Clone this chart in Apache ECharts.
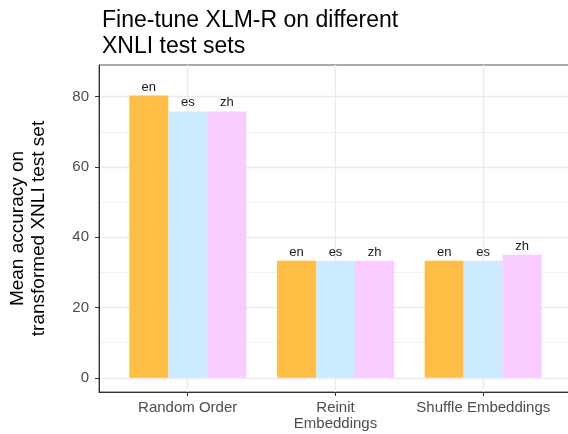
<!DOCTYPE html>
<html>
<head>
<meta charset="utf-8">
<script src="https://cdn.jsdelivr.net/npm/echarts@6/dist/echarts.min.js"></script>
<style>
html,body{margin:0;padding:0;background:#fff;}
#chart{width:568px;height:434px;}
</style>
</head>
<body>
<div id="chart"></div>
<script>
const categories = ['Random Order', 'Reinit\nEmbeddings', 'Shuffle Embeddings'];
const seriesNames = ['en', 'es', 'zh'];
const enValues = [80.3, 33.3, 33.3];
const esValues = [75.8, 33.3, 33.3];
const zhValues = [75.8, 33.3, 35.0];
const yMajorTicks = [0, 20, 40, 60, 80];
const yMinorTicks = [10, 30, 50, 70];
const xTickPositions = [1, 2, 3];

const colors = ['#FFBF47', '#CCEBFF', '#F9CCFF'];
const FONT = 'Liberation Sans';
const Y_MIN = -4.03, Y_MAX = 89.0;

const values = [enValues, esValues, zhValues];

const chart = echarts.init(document.getElementById('chart'), null, {renderer: 'canvas'});

const option = {
  animation: false,
  backgroundColor: '#fff',
  textStyle: {fontFamily: FONT},
  title: {
    text: 'Fine-tune XLM-R on different\nXNLI test sets',
    left: 97, top: 3,
    textStyle: {fontFamily: FONT, fontSize: 23, fontWeight: 'normal', color: '#000', lineHeight: 26}
  },
  grid: [
    {left: 99, top: 65, width: 473, height: 327, show: true, borderColor: '#555', borderWidth: 1, backgroundColor: 'transparent', containLabel: false, outerBoundsMode: 'none'},
    {left: 114, top: 65, width: 443, height: 327, containLabel: false, outerBoundsMode: 'none'}
  ],
  xAxis: [
    {
      type: 'value', gridIndex: 0, min: 0.4, max: 3.6,
      axisLine: {show: true, onZero: false, lineStyle: {color: '#333', width: 1}},
      axisTick: {show: true, length: 4, customValues: xTickPositions, lineStyle: {color: '#333', width: 1}},
      axisLabel: {
        customValues: xTickPositions, margin: 8,
        fontFamily: FONT, fontSize: 15, color: '#4D4D4D', lineHeight: 16,
        formatter: v => categories[Math.round(v) - 1] || ''
      },
      splitLine: {show: true, lineStyle: {color: '#EBEBEB', width: 1.4}}
    },
    {
      type: 'category', gridIndex: 1, data: categories,
      axisLine: {show: false}, axisTick: {show: false}, axisLabel: {show: false}, splitLine: {show: false}
    }
  ],
  yAxis: [
    {
      type: 'value', gridIndex: 0, min: Y_MIN, max: Y_MAX,
      name: 'Mean accuracy on\ntransformed XNLI test set',
      nameLocation: 'middle', nameRotate: 90, nameGap: 50,
      nameTextStyle: {fontFamily: FONT, fontSize: 19, color: '#000', lineHeight: 21},
      axisLine: {show: true, onZero: false, lineStyle: {color: '#333', width: 1}},
      axisTick: {show: true, length: 4, customValues: yMajorTicks, lineStyle: {color: '#333', width: 1}},
      axisLabel: {customValues: yMajorTicks, margin: 10, fontFamily: FONT, fontSize: 15, color: '#4D4D4D'},
      splitLine: {show: true, lineStyle: {color: '#EBEBEB', width: 1.4}}
    },
    {
      type: 'value', gridIndex: 0, min: Y_MIN, max: Y_MAX, position: 'left',
      axisLine: {show: false},
      axisTick: {show: false, customValues: yMinorTicks},
      axisLabel: {show: false, customValues: yMinorTicks},
      splitLine: {show: true, lineStyle: {color: '#F2F2F2', width: 1}}
    },
    {
      type: 'value', gridIndex: 1, min: Y_MIN, max: Y_MAX,
      axisLine: {show: false}, axisTick: {show: false}, axisLabel: {show: false}, splitLine: {show: false}
    }
  ],
  series: seriesNames.map((name, i) => ({
    name: name,
    type: 'bar',
    xAxisIndex: 1, yAxisIndex: 2,
    data: values[i],
    barWidth: 39,
    barGap: '0%',
    itemStyle: {color: colors[i]},
    z: 3,
    label: {
      show: true, position: 'top', distance: 2,
      formatter: () => name,
      fontFamily: FONT, fontSize: 13, color: '#1A1A1A'
    }
  }))
};

chart.setOption(option);
</script>
</body>
</html>
